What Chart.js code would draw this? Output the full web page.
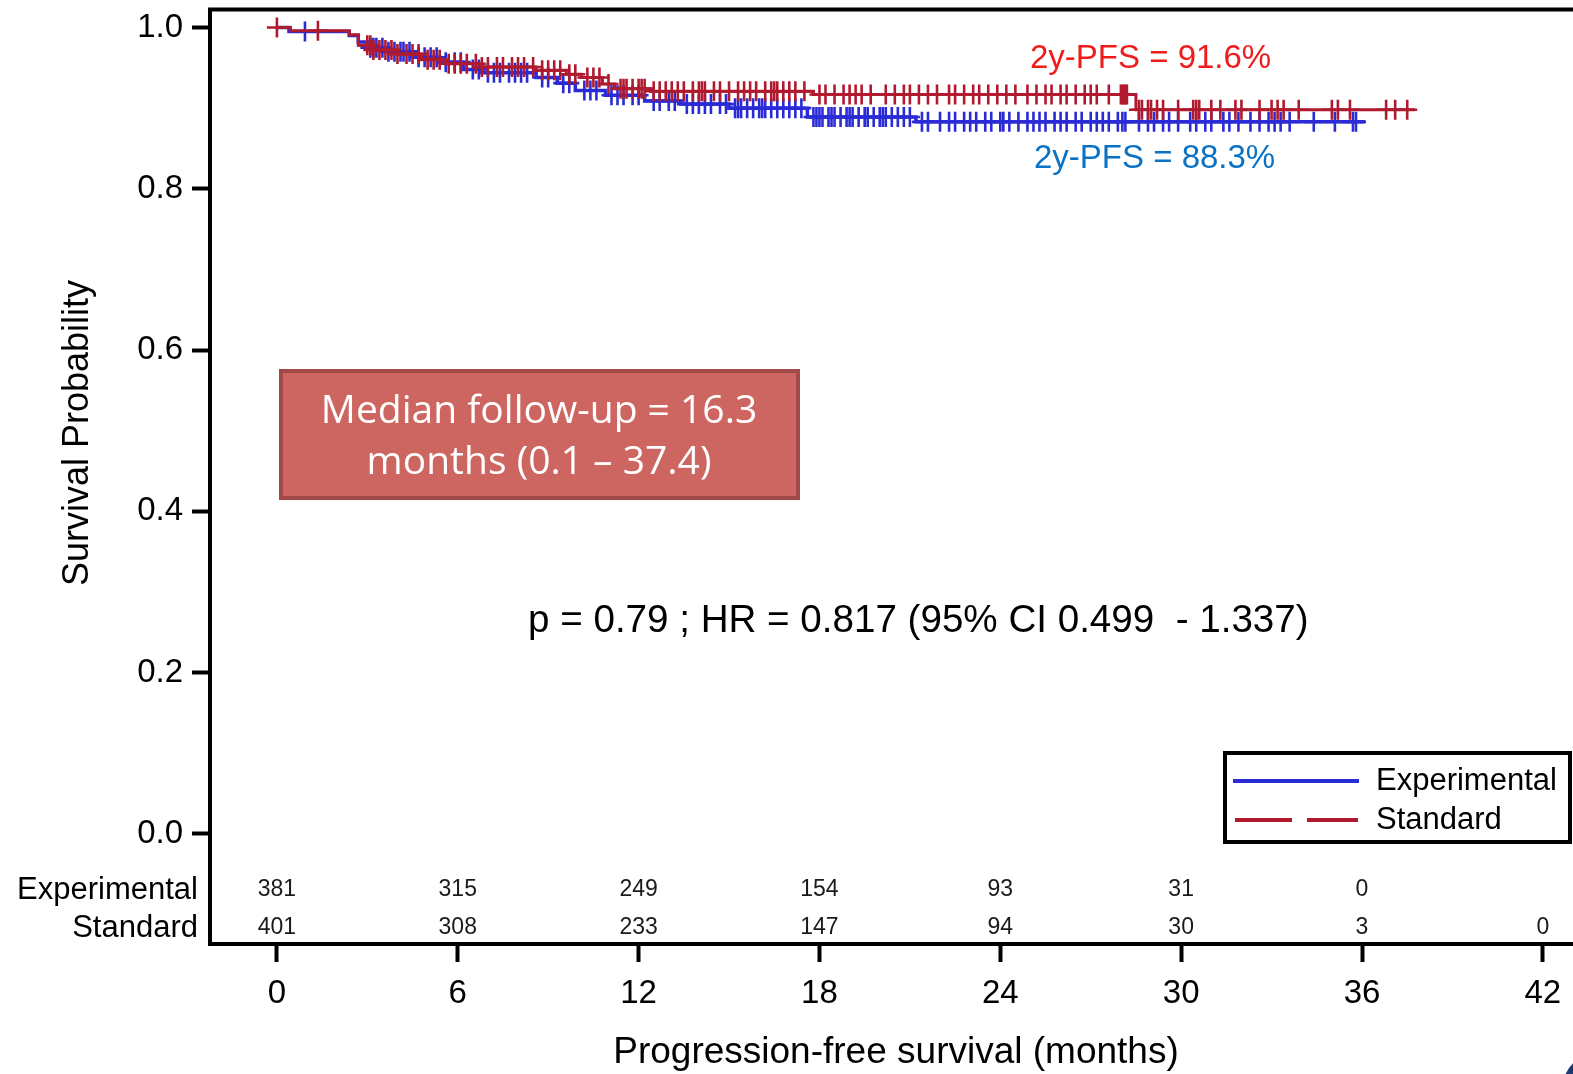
<!DOCTYPE html>
<html>
<head>
<meta charset="utf-8">
<script src="https://cdn.jsdelivr.net/npm/chart.js@4.4.1/dist/chart.umd.min.js"></script>
<style>
html, body { margin: 0; padding: 0; background: #fff; overflow: hidden; }
#wrap { width: 1573px; height: 1074px; }
</style>
</head>
<body>
<div id="wrap"><canvas id="km" width="1573" height="1074"></canvas></div>
<script>
// Kaplan-Meier steps (months, survival)
const expTimes = [0, 0.4, 2.4, 2.7, 3.1, 3.6, 4.6, 5.4, 6.2, 6.8, 8.6, 9.3, 9.9, 10.9, 12.2, 13.4, 15.0, 17.6, 21.2];
const expSurv  = [1.0, 0.995, 0.99, 0.982, 0.975, 0.970, 0.963, 0.957, 0.948, 0.944, 0.938, 0.931, 0.922, 0.916, 0.909, 0.905, 0.900, 0.889, 0.883];
const expEnd = 36.1;

const stdTimes = [0, 0.45, 2.4, 2.7, 3.2, 4.0, 4.8, 5.6, 6.8, 8.6, 9.6, 10.1, 10.8, 11.2, 12.4, 17.8, 28.5];
const stdSurv  = [1.0, 0.996, 0.991, 0.978, 0.972, 0.967, 0.960, 0.955, 0.951, 0.947, 0.942, 0.938, 0.930, 0.924, 0.921, 0.917, 0.898];
const stdEnd = 37.75;

// censoring times (months)
const expCensor = [0.93, 3.1, 3.2, 3.3, 3.5, 3.7, 3.9, 4.1, 4.2, 4.4, 4.7, 4.9, 5.1, 5.3, 5.6, 5.9, 6.1, 6.5, 6.7,
  7.0, 7.2, 7.4, 7.7, 7.9, 8.1, 8.3, 8.8, 9.0, 9.5, 9.7, 10.2, 10.4, 10.6, 11.1, 11.3, 11.5, 11.8, 12.0, 12.5,
  12.7, 13.0, 13.2, 13.6, 13.8, 14.0, 14.2, 14.4, 14.7, 14.9, 15.2, 15.3, 15.4, 15.6, 15.8, 16.0, 16.1, 16.2,
  16.4, 16.6, 16.8, 17.0, 17.2, 17.4, 17.8, 17.9, 18.0, 18.1, 18.3, 18.4, 18.5, 18.7, 18.9, 19.0, 19.1, 19.3,
  19.5, 19.6, 19.8, 20.0, 20.1, 20.2, 20.4, 20.6, 20.8, 21.0, 21.4, 21.6, 22.0, 22.3, 22.5, 22.8, 23.0, 23.2,
  23.5, 23.7, 24.0, 24.1, 24.3, 24.6, 24.9, 25.1, 25.3, 25.5, 25.8, 26.0, 26.2, 26.5, 26.7, 27.0, 27.2, 27.4,
  27.6, 27.9, 28.05, 28.15, 28.6, 28.9, 29.1, 29.4, 29.6, 29.9, 30.3, 30.5, 30.8, 31.0, 31.4, 31.6, 31.9, 32.3,
  32.6, 32.9, 33.1, 33.3, 33.6, 34.4, 35.1, 35.7, 35.8];
const stdCensor = [0.0, 1.36, 3.0, 3.1, 3.2, 3.4, 3.6, 3.8, 4.0, 4.3, 4.5, 4.7, 5.0, 5.2, 5.4, 5.7, 5.9, 6.1, 6.3,
  6.6, 6.8, 7.0, 7.3, 7.5, 7.8, 8.0, 8.2, 8.5, 8.8, 9.0, 9.2, 9.4, 9.7, 9.9, 10.3, 10.5, 10.7, 11.0, 11.4, 11.5,
  11.6, 11.8, 12.0, 12.1, 12.2, 12.5, 12.7, 12.9, 13.1, 13.3, 13.5, 13.8, 14.0, 14.1, 14.2, 14.5, 14.7, 15.0,
  15.3, 15.5, 15.7, 15.9, 16.2, 16.4, 16.5, 16.6, 16.8, 17.0, 17.2, 17.5, 18.0, 18.2, 18.5, 18.8, 19.0, 19.2,
  19.4, 19.7, 20.2, 20.5, 20.8, 21.0, 21.3, 21.6, 21.9, 22.3, 22.5, 22.8, 23.1, 23.3, 23.6, 23.9, 24.2, 24.5,
  24.9, 25.2, 25.5, 25.7, 26.0, 26.2, 26.5, 26.8, 27.0, 27.2, 27.6, 28.0, 28.05, 28.1, 28.15, 28.2, 28.6, 28.7,
  28.9, 29.0, 29.2, 29.4, 29.9, 30.4, 30.5, 30.6, 31.0, 31.3, 31.8, 32.0, 32.6, 33.0, 33.2, 33.4, 33.9, 35.0,
  35.2, 35.6, 36.8, 37.1, 37.5];

// numbers at risk
const riskTimes = [0, 6, 12, 18, 24, 30, 36, 42];
const expRisk = [381, 315, 249, 154, 93, 31, 0, null];
const stdRisk = [401, 308, 233, 147, 94, 30, 3, 0];

const xTicks = [0, 6, 12, 18, 24, 30, 36, 42];
const yTicks = [0.0, 0.2, 0.4, 0.6, 0.8, 1.0];

const BLUE = '#2b2bd6';
const RED = '#b01a2f';
const FONT = "'Liberation Sans', Arial, sans-serif";

function stepPoints(times, surv, end) {
  const pts = times.map((t, i) => ({ x: t, y: surv[i] }));
  pts.push({ x: end, y: surv[surv.length - 1] });
  return pts;
}

function survAt(times, surv, t) {
  let s = surv[0];
  for (let i = 0; i < times.length; i++) {
    if (times[i] <= t) s = surv[i];
  }
  return s;
}

function censorPoints(censor, times, surv) {
  return censor.map(t => ({ x: t, y: survAt(times, surv, t) }));
}

const decor = {
  id: 'decor',
  afterDraw(chart) {
    const { ctx, chartArea: a, scales: { x, y } } = chart;
    ctx.save();

    // top edge of the frame
    ctx.strokeStyle = '#000';
    ctx.lineWidth = 4;
    ctx.beginPath();
    ctx.moveTo(a.left - 2, a.top);
    ctx.lineTo(a.right, a.top);
    ctx.stroke();

    // axis titles
    ctx.fillStyle = '#000';
    ctx.font = '36px ' + FONT;
    ctx.textAlign = 'center';
    ctx.textBaseline = 'middle';
    ctx.save();
    ctx.translate(78, 433);
    ctx.rotate(-Math.PI / 2);
    ctx.fillText('Survival Probability', 0, 0);
    ctx.restore();
    ctx.font = '37px ' + FONT;
    ctx.fillText('Progression-free survival (months)', 896, 1053);

    // at-risk table
    ctx.font = '31px ' + FONT;
    ctx.textAlign = 'right';
    const rowE = y.getPixelForValue(-0.0694);
    const rowS = y.getPixelForValue(-0.1166);
    ctx.fillText('Experimental', 198, rowE);
    ctx.fillText('Standard', 198, rowS);
    ctx.font = '23px ' + FONT;
    ctx.fillStyle = '#1a1a1a';
    ctx.textAlign = 'center';
    riskTimes.forEach((t, i) => {
      const px = x.getPixelForValue(t);
      if (expRisk[i] !== null) ctx.fillText(String(expRisk[i]), px, rowE);
      if (stdRisk[i] !== null) ctx.fillText(String(stdRisk[i]), px, rowS);
    });

    // 2y-PFS labels
    ctx.font = '33px ' + FONT;
    ctx.textAlign = 'left';
    ctx.fillStyle = '#f01c1c';
    ctx.fillText('2y-PFS = 91.6%', 1030, 59);
    ctx.fillStyle = '#0a72c4';
    ctx.fillText('2y-PFS = 88.3%', 1034, 159);

    // p-value
    ctx.fillStyle = '#000';
    ctx.font = '38.6px ' + FONT;
    ctx.fillText('p = 0.79 ; HR = 0.817 (95% CI 0.499  - 1.337)', 528, 621);

    // follow-up box
    ctx.fillStyle = '#cd6660';
    ctx.fillRect(279, 369, 521, 131);
    ctx.strokeStyle = '#a2494a';
    ctx.lineWidth = 4;
    ctx.strokeRect(281, 371, 517, 127);
    ctx.fillStyle = '#fff';
    ctx.font = "39px 'Open Sans', sans-serif";
    ctx.textAlign = 'center';
    ctx.fillText('Median follow-up = 16.3', 539, 412);
    ctx.fillText('months (0.1 \u2013 37.4)', 539, 463);

    // legend
    ctx.fillStyle = '#fff';
    ctx.fillRect(1225, 753, 345, 89);
    ctx.strokeStyle = '#000';
    ctx.lineWidth = 4;
    ctx.strokeRect(1225, 753, 345, 89);
    ctx.lineWidth = 4;
    ctx.strokeStyle = BLUE;
    ctx.beginPath();
    ctx.moveTo(1233, 781);
    ctx.lineTo(1359, 781);
    ctx.stroke();
    ctx.strokeStyle = RED;
    ctx.setLineDash([57, 15]);
    ctx.beginPath();
    ctx.moveTo(1235, 820);
    ctx.lineTo(1358, 820);
    ctx.stroke();
    ctx.setLineDash([]);
    ctx.fillStyle = '#000';
    ctx.font = '31px ' + FONT;
    ctx.textAlign = 'left';
    ctx.fillText('Experimental', 1376, 781);
    ctx.fillText('Standard', 1376, 820);

    // corner logo fragment
    ctx.fillStyle = '#1f3a70';
    ctx.beginPath();
    ctx.arc(1600, 1090, 38, 0, Math.PI * 2);
    ctx.fill();

    ctx.restore();
  }
};

new Chart(document.getElementById('km'), {
  type: 'line',
  data: {
    datasets: [
      {
        label: 'Standard censored',
        type: 'scatter',
        data: censorPoints(stdCensor, stdTimes, stdSurv),
        showLine: false,
        pointStyle: 'cross',
        pointRadius: 10,
        pointBorderWidth: 2.6,
        borderColor: RED,
        backgroundColor: RED,
        order: 0
      },
      {
        label: 'Standard',
        data: stepPoints(stdTimes, stdSurv, stdEnd),
        stepped: 'before',
        borderColor: RED,
        borderWidth: 3,
        pointRadius: 0,
        fill: false,
        order: 1
      },
      {
        label: 'Experimental censored',
        type: 'scatter',
        data: censorPoints(expCensor, expTimes, expSurv),
        showLine: false,
        pointStyle: 'cross',
        pointRadius: 10,
        pointBorderWidth: 2.6,
        borderColor: BLUE,
        backgroundColor: BLUE,
        order: 2
      },
      {
        label: 'Experimental',
        data: stepPoints(expTimes, expSurv, expEnd),
        stepped: 'before',
        borderColor: BLUE,
        borderWidth: 3.5,
        pointRadius: 0,
        fill: false,
        order: 3
      }
    ]
  },
  options: {
    responsive: false,
    animation: false,
    layout: { autoPadding: false, padding: { top: 9.5, right: 0, left: 0, bottom: 0 } },
    plugins: { legend: { display: false }, tooltip: { enabled: false } },
    scales: {
      x: {
        type: 'linear',
        min: -2.22,
        max: 43.0,
        afterBuildTicks: s => { s.ticks = xTicks.map(v => ({ value: v })); },
        afterFit: s => { s.height = 130; s.paddingLeft = 0; s.paddingRight = 0; },
        grid: { drawOnChartArea: false, drawTicks: true, tickLength: 18, tickWidth: 4, tickColor: '#000' },
        border: { display: true, color: '#000', width: 4 },
        ticks: { color: '#000', font: { family: FONT, size: 33 }, padding: 12, maxRotation: 0, autoSkip: false }
      },
      y: {
        min: -0.1364,
        max: 1.0223,
        afterBuildTicks: s => { s.ticks = yTicks.map(v => ({ value: v })); },
        afterFit: s => { s.width = 210; s.paddingTop = 0; s.paddingBottom = 0; },
        grid: { drawOnChartArea: false, drawTicks: true, tickLength: 18, tickWidth: 4, tickColor: '#000' },
        border: { display: true, color: '#000', width: 4 },
        ticks: { color: '#000', font: { family: FONT, size: 33 }, padding: 9, callback: v => v.toFixed(1) }
      }
    }
  },
  plugins: [decor]
});
</script>
</body>
</html>
